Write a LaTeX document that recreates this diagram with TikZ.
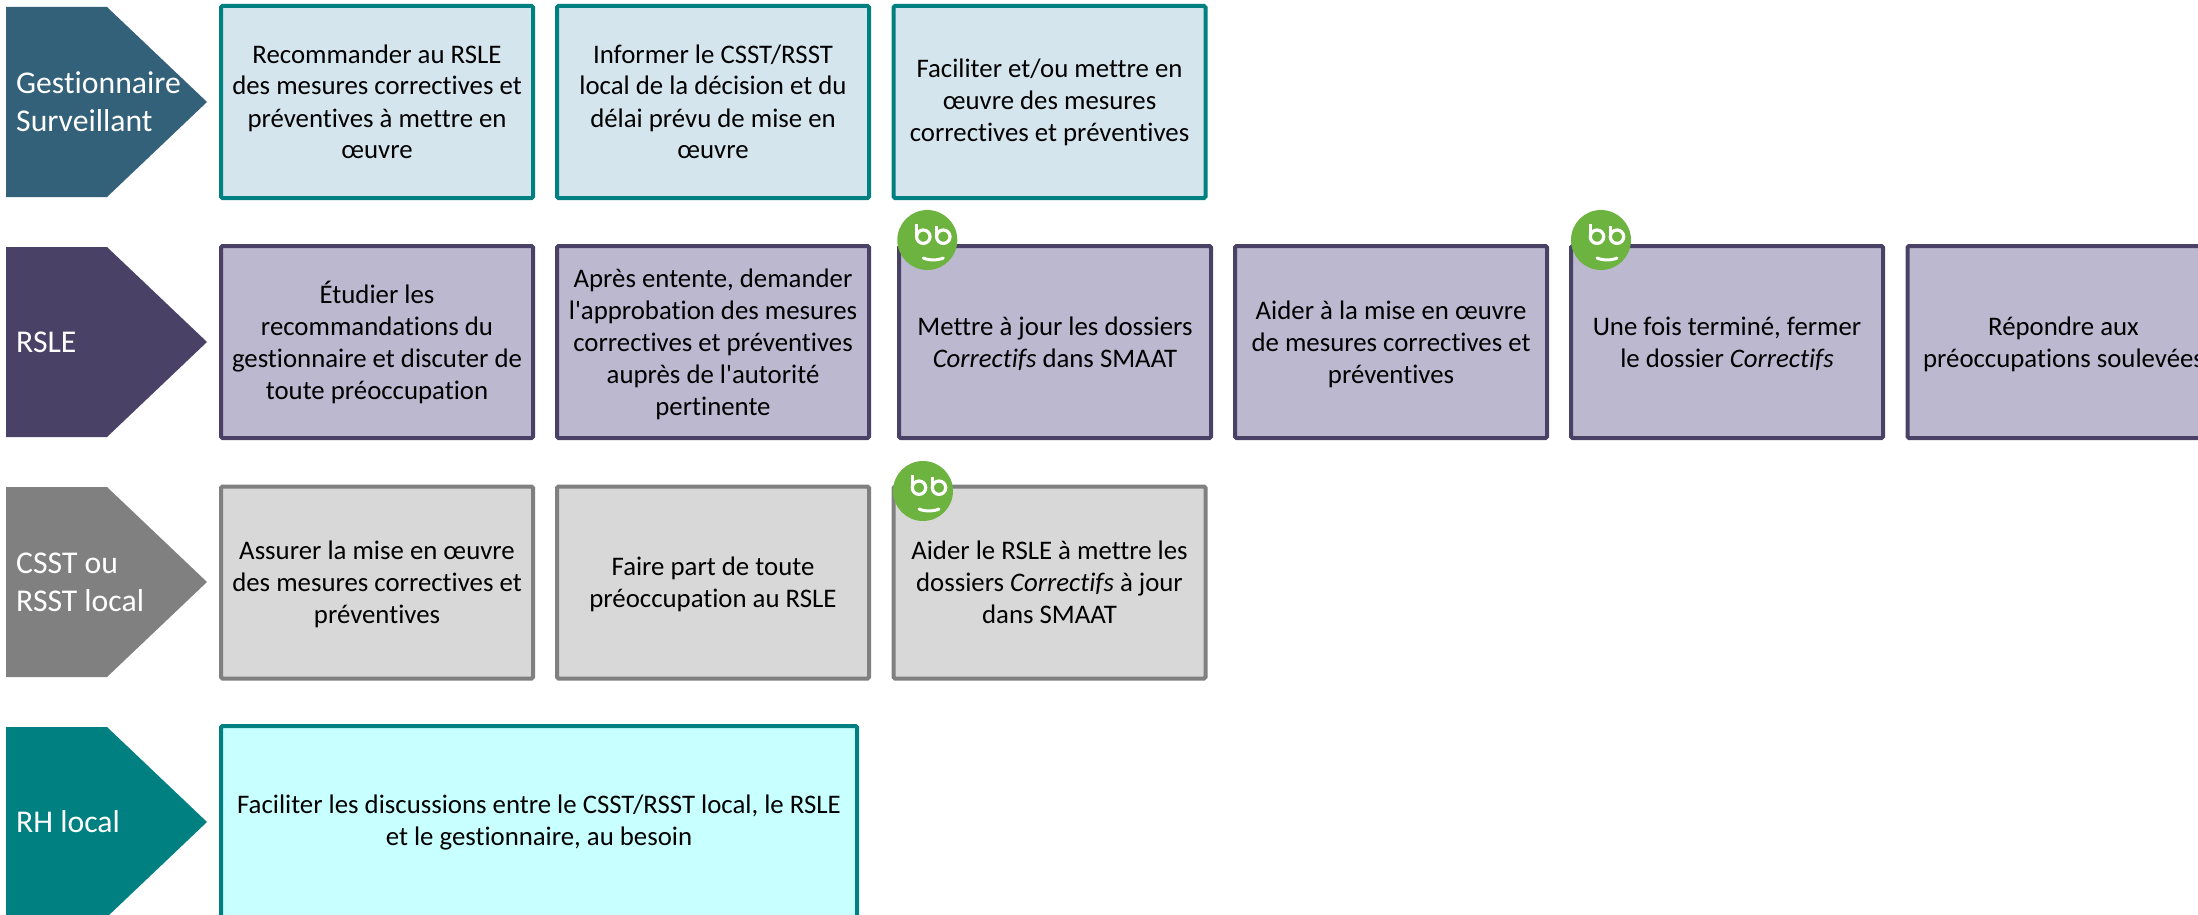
\documentclass[tikz,border=0pt]{standalone}
\usepackage{fontspec}
\setmainfont{Carlito}[Ligatures={CommonOff,TeXOff}]
\definecolor{cTeal}{HTML}{008080}
\definecolor{cBlue}{HTML}{326179}
\definecolor{cBlueL}{HTML}{D5E5EE}
\definecolor{cPurple}{HTML}{4A4266}
\definecolor{cPurpleL}{HTML}{BCB8D0}
\definecolor{cGrey}{HTML}{808080}
\definecolor{cGreyL}{HTML}{D8D8D8}
\definecolor{cAqua}{HTML}{C8FFFF}
\definecolor{cBadge}{HTML}{6DB33F}
\newcommand{\topr}{\rule{0pt}{24pt}}
\tikzset{
  x=1pt,y=-1pt,
  actbox/.style={draw,line width=4pt,rounded corners=1.5pt,minimum width=312pt,minimum height=192pt,inner sep=0pt,align=center,text=black,font=\fontsize{26.8}{32}\selectfont,anchor=center,
    execute at end node={\rule[-6pt]{0pt}{6pt}}},
  rowA/.style={actbox,draw=cTeal,fill=cBlueL},
  rowB/.style={actbox,draw=cPurple,fill=cPurpleL},
  rowC/.style={actbox,draw=cGrey,fill=cGreyL},
  rowD/.style={actbox,draw=cTeal,fill=cAqua,minimum width=636pt,minimum height=194pt},
  role/.style={anchor=west,inner sep=0pt,text=white,align=left,font=\fontsize{31.7}{38}\selectfont},
  face/.style={fill=cBadge,draw=none},
  eye/.style={draw=white,line width=3.2pt,fill=none},
  mouth/.style={draw=white,line width=3pt,line cap=round},
}
\newcommand{\chevron}[2]{%
  \fill[#1] (6,#2-95) -- (107,#2-95) -- (207,#2) -- (107,#2+95) -- (6,#2+95) -- cycle;}
\newcommand{\bbface}[2]{%
  \begin{scope}[shift={(#1,#2)}]
    \fill[face] (0,0) circle[radius=30];
    \draw[eye] (-4,-3.3) circle[radius=6.7];
    \draw[eye] (16,-3.3) circle[radius=6.7];
    \draw[eye] (-10.7,-3.3) -- (-10.7,-16.5);
    \draw[eye] (9.3,-3.3) -- (9.3,-14.5);
    \draw[mouth] (-4,18) .. controls (1,20.5) and (11,20.5) .. (16,18);
  \end{scope}}
\begin{document}
\begin{tikzpicture}
\useasboundingbox (0,0) rectangle (2198,915);
\clip (0,0) rectangle (2198,915);
% role chevrons
\chevron{cBlue}{102}
\chevron{cPurple}{342}
\chevron{cGrey}{582}
\chevron{cTeal}{822}
\node[role] (r1) at (16,102) {Gestionnaire\\Surveillant};
\node[role] (r2) at (16,342) {RSLE};
\node[role] (r3) at (16,582) {CSST ou\\RSST local};
\node[role] (r4) at (16,822) {RH local};
% row 1
\node[rowA] (a1) at (377,102) {\topr Recommander au RSLE\\des mesures correctives et\\préventives à mettre en\\œuvre};
\node[rowA] (a2) at (713,102) {\topr Informer le CSST/RSST\\local de la décision et du\\délai prévu de mise en\\œuvre};
\node[rowA] (a3) at (1049.5,102) {\rule{0pt}{21pt}Faciliter et/ou mettre en\\œuvre des mesures\\correctives et préventives};
% row 2
\node[rowB] (b1) at (377,342) {\topr Étudier les\\recommandations du\\gestionnaire et discuter de\\toute préoccupation};
\node[rowB] (b2) at (713,342) {\topr Après entente, demander\\l'approbation des mesures\\correctives et préventives\\auprès de l'autorité\\pertinente};
\node[rowB] (b3) at (1055,342) {\topr Mettre à jour les dossiers\\\textit{Correctifs} dans SMAAT};
\node[rowB] (b4) at (1391,342) {\topr Aider à la mise en œuvre\\de mesures correctives et\\préventives};
\node[rowB] (b5) at (1727,342) {\topr Une fois terminé, fermer\\le dossier \textit{Correctifs}};
\node[rowB] (b6) at (2063.5,342) {\topr Répondre aux\\préoccupations soulevées};
% row 3
\node[rowC] (c1) at (377,582.5) {\topr Assurer la mise en œuvre\\des mesures correctives et\\préventives};
\node[rowC] (c2) at (713,582.5) {\topr Faire part de toute\\préoccupation au RSLE};
\node[rowC] (c3) at (1049.5,582.5) {\topr Aider le RSLE à mettre les\\dossiers \textit{Correctifs} à jour\\dans SMAAT};
% row 4
\node[rowD] (d1) at (539,823) {Faciliter les discussions entre le CSST/RSST local, le RSLE\\et le gestionnaire, au besoin};
% badges
\bbface{927.3}{240}
\bbface{1601}{240}
\bbface{923}{491}
\end{tikzpicture}
\end{document}
